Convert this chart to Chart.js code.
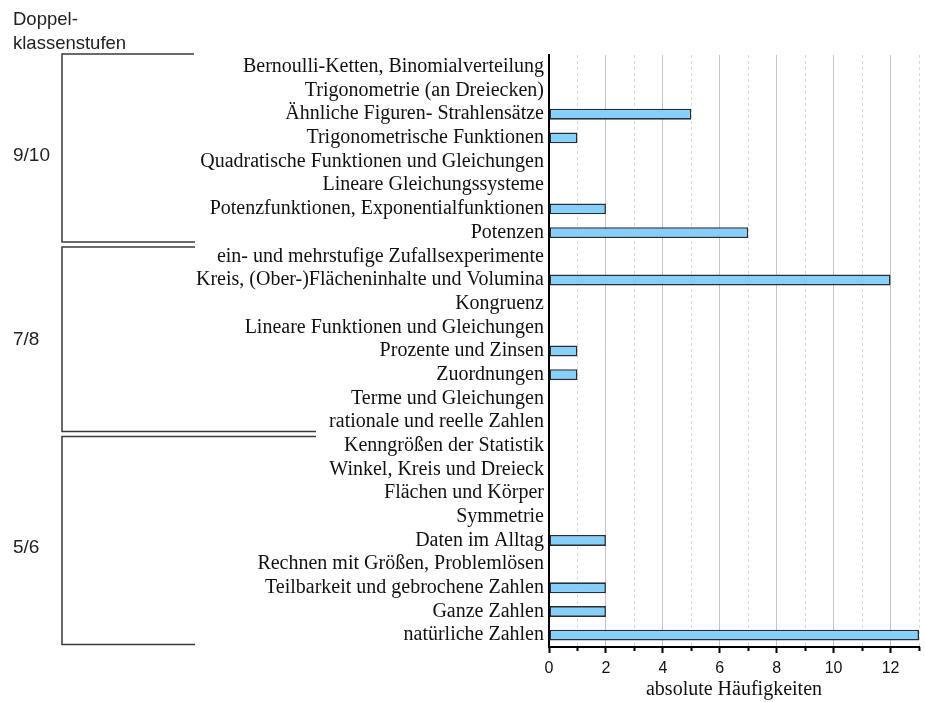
<!DOCTYPE html>
<html>
<head>
<meta charset="utf-8">
<script src="https://cdn.jsdelivr.net/npm/chart.js@4"></script>
<style>
  html, body { margin: 0; padding: 0; background: #fff; }
  #chart { display: block; }
</style>
</head>
<body>
<canvas id="chart" width="925" height="702"></canvas>
<script>
// Themen (top to bottom) and absolute counts
const topics = [
    "Bernoulli-Ketten, Binomialverteilung",
    "Trigonometrie (an Dreiecken)",
    "Ähnliche Figuren- Strahlensätze",
    "Trigonometrische Funktionen",
    "Quadratische Funktionen und Gleichungen",
    "Lineare Gleichungssysteme",
    "Potenzfunktionen, Exponentialfunktionen",
    "Potenzen",
    "ein- und mehrstufige Zufallsexperimente",
    "Kreis, (Ober-)Flächeninhalte und Volumina",
    "Kongruenz",
    "Lineare Funktionen und Gleichungen",
    "Prozente und Zinsen",
    "Zuordnungen",
    "Terme und Gleichungen",
    "rationale und reelle Zahlen",
    "Kenngrößen der Statistik",
    "Winkel, Kreis und Dreieck",
    "Flächen und Körper",
    "Symmetrie",
    "Daten im Alltag",
    "Rechnen mit Größen, Problemlösen",
    "Teilbarkeit und gebrochene Zahlen",
    "Ganze Zahlen",
    "natürliche Zahlen"
]
const counts = [0, 0, 5, 1, 0, 0, 2, 7, 0, 12, 0, 0, 1, 1, 0, 0, 0, 0, 0, 0, 2, 0, 2, 2, 13]

// Doppelklassenstufen: name, first and last topic index
const groupNames = ["9/10", "7/8", "5/6"]
const groupStart = [0, 8, 16]
const groupEnd = [7, 15, 24]

const xMin = 0
const xMax = 13

const serif = '"Liberation Serif", "Times New Roman", serif'
const sans = '"Liberation Sans", Arial, sans-serif'

// dashed minor grid lines + short minor ticks at odd values
const minorGrid = {
    id: 'minorGrid',
    beforeDatasetsDraw(chart) {
        const ctx = chart.ctx
        const x = chart.scales.x
        const area = chart.chartArea
        ctx.save()
        for (let v = xMin + 1; v <= xMax; v += 2) {
            const px = Math.round(x.getPixelForValue(v)) + 0.5
            ctx.strokeStyle = '#d9d9d9'
            ctx.lineWidth = 1
            ctx.setLineDash([3, 3])
            ctx.beginPath()
            ctx.moveTo(px, area.top)
            ctx.lineTo(px, area.bottom)
            ctx.stroke()
            ctx.setLineDash([])
            ctx.strokeStyle = '#000'
            ctx.lineWidth = 2
            ctx.beginPath()
            ctx.moveTo(px, area.bottom)
            ctx.lineTo(px, area.bottom + 4)
            ctx.stroke()
        }
        ctx.restore()
    }
}

// brackets + labels for the Doppelklassenstufen on the left
const groupBrackets = {
    id: 'groupBrackets',
    afterDraw(chart) {
        const ctx = chart.ctx
        const y = chart.scales.y
        const left = 62
        const topEnds = [194, 195, 316]
        const bottomEnds = [195, 316, 195]
        const labelShift = [8, 1, 7]
        ctx.save()
        ctx.strokeStyle = '#3a3a3a'
        ctx.lineWidth = 1.5
        ctx.fillStyle = '#222'
        ctx.font = '19px ' + sans
        groupNames.forEach((name, g) => {
            let top = y.getPixelForValue(groupStart[g] - 0.5)
            top = g === 0 ? top - 1 : top + 2.5
            const bottom = y.getPixelForValue(groupEnd[g] + 0.5) - 2.5
            ctx.beginPath()
            ctx.moveTo(topEnds[g], top)
            ctx.lineTo(left, top)
            ctx.lineTo(left, bottom)
            ctx.lineTo(bottomEnds[g], bottom)
            ctx.stroke()

            ctx.textAlign = 'left'
            ctx.textBaseline = 'middle'
            ctx.fillText(name, 13, (top + bottom) / 2 + labelShift[g])
        })
        ctx.textBaseline = 'alphabetic'
        ctx.font = '18.5px ' + sans
        ctx.fillText('Doppel-', 13, 25)
        ctx.fillText('klassenstufen', 13, 49)
        ctx.restore()
    }
}

new Chart(document.getElementById('chart'), {
    type: 'bar',
    data: {
        labels: topics,
        datasets: [{
            data: counts,
            backgroundColor: '#84D0FA',
            borderColor: '#262e33',
            borderWidth: 1.6,
            borderSkipped: false,
            barPercentage: 0.46,
            categoryPercentage: 1
        }]
    },
    options: {
        indexAxis: 'y',
        responsive: false,
        animation: false,
        layout: { padding: { top: 55, right: 4, left: 0, bottom: 0 } },
        plugins: {
            legend: { display: false },
            tooltip: { enabled: false }
        },
        scales: {
            y: {
                afterFit: (scale) => { scale.width = 549 },
                grid: { display: false, drawTicks: false },
                border: { display: true, color: '#000', width: 2 },
                ticks: {
                    color: '#111',
                    padding: 5,
                    autoSkip: false,
                    font: { family: serif, size: 20 }
                }
            },
            x: {
                min: xMin,
                max: xMax,
                afterFit: (scale) => { scale.height = 55 },
                border: { display: true, color: '#000', width: 2 },
                grid: {
                    color: (c) => (c.tick && c.tick.value % 2 === 0 && c.tick.value !== 0) ? '#c4c4c4' : 'rgba(0,0,0,0)',
                    lineWidth: 1,
                    tickLength: 6,
                    tickWidth: 2,
                    tickColor: (c) => (c.tick && c.tick.value % 2 === 0) ? '#000' : 'rgba(0,0,0,0)'
                },
                ticks: {
                    stepSize: 1,
                    autoSkip: false,
                    maxRotation: 0,
                    padding: 6,
                    color: '#111',
                    font: { family: sans, size: 16 },
                    callback: (v) => v % 2 === 0 ? v : ''
                },
                title: {
                    display: true,
                    text: 'absolute Häufigkeiten',
                    color: '#111',
                    padding: { top: -2, bottom: 0 },
                    font: { family: serif, size: 20 }
                }
            }
        }
    },
    plugins: [minorGrid, groupBrackets]
})
</script>
</body>
</html>
